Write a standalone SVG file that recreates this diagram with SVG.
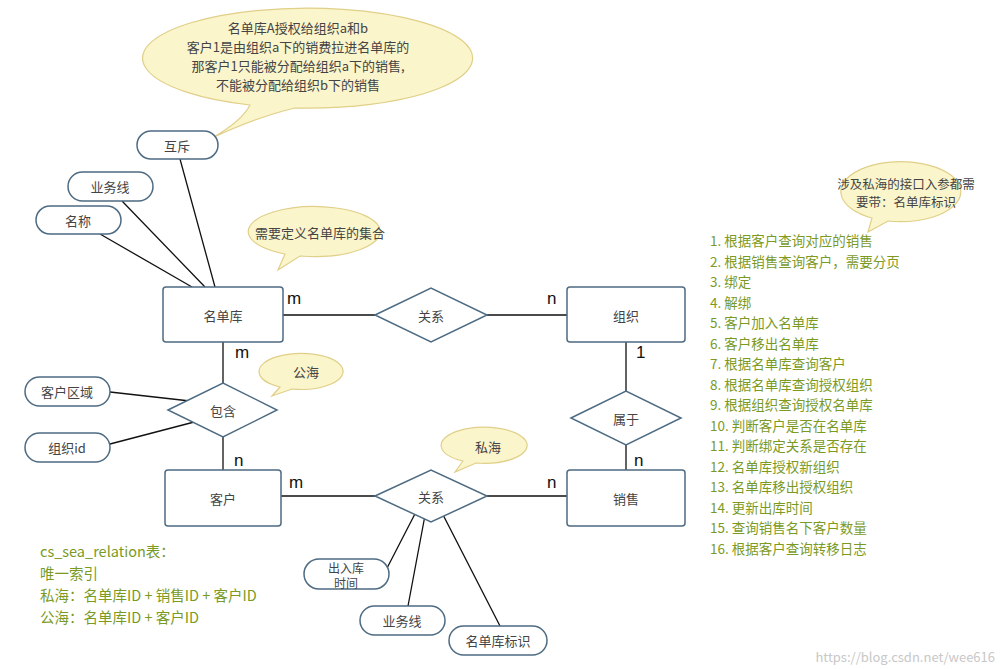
<svg xmlns="http://www.w3.org/2000/svg" width="1003" height="669" viewBox="0 0 1003 669">
<style>
text{font-family:"Noto Sans CJK SC","Liberation Sans",sans-serif;}
.box{fill:#fff;stroke:#4d6b82;stroke-width:1.5}
.t{font-size:13px;fill:#444;text-anchor:middle;dominant-baseline:central}
.c{fill:#fbf5cc;stroke:#e0cf88;stroke-width:1.2}
.ln{stroke:#111;stroke-width:1.3;fill:none}
.card{font-family:"Liberation Sans",sans-serif;font-size:17px;fill:#111}
.g{font-size:13.5px;fill:#7b9a1f}
.g2{font-size:14.5px;fill:#7b9a1f}
</style>
<rect width="1003" height="669" fill="#fff"/>
<g id="connectors">
<path class="ln" d="M283 315H375M487 315H567M223 342V383M223 437V470M626 342V391M626 445V470M281 496H375M487 496H567"/>
<path class="ln" d="M180 159L215 287M122 201L205 287M100 234L192 287M110 392L190 401M110 444L198 421M385 572L418 508M408 606L426 510M500 626L438 505"/>
</g>
<g id="callouts">
<path class="c" d="M212 138 C235 125 245 115 250 105 A165 50 0 1 1 295 108 C265 115 240 125 212 138Z"/>
<text class="t" x="298" y="27">名单库A授权给组织a和b</text>
<text class="t" x="298" y="46">客户1是由组织a下的销费拉进名单库的</text>
<text class="t" x="298" y="65">那客户1只能被分配给组织a下的销售,</text>
<text class="t" x="298" y="84">不能被分配给组织b下的销售</text>
<path class="c" d="M278 270 L285 254 A66 25 0 1 1 300 256 Z"/>
<text class="t" x="320" y="232">需要定义名单库的集合</text>
<path class="c" d="M272 396 L280 387 A42 18 0 1 1 292 389 Z"/>
<text class="t" x="306" y="371">公海</text>
<path class="c" d="M455 472 L463 461 A43 18 0 1 1 476 463 Z"/>
<text class="t" x="488" y="446">私海</text>
<path class="c" d="M868 232 L872 218 A60 30 0 1 1 888 221 Z"/>
<text class="t" x="906" y="183" style="font-size:12.5px">涉及私海的接口入参都需</text>
<text class="t" x="906" y="201" style="font-size:12.5px">要带：名单库标识</text>
</g>
<g id="n-mdk"><rect class="box" x="163" y="287" width="120" height="55" rx="3"/><text class="t" x="223" y="315">名单库</text></g>
<g id="n-zz"><rect class="box" x="567" y="287" width="118" height="55" rx="3"/><text class="t" x="626" y="315">组织</text></g>
<g id="n-kh"><rect class="box" x="165" y="470" width="116" height="56" rx="3"/><text class="t" x="223" y="498">客户</text></g>
<g id="n-xs"><rect class="box" x="567" y="470" width="118" height="56" rx="3"/><text class="t" x="626" y="498">销售</text></g>
<g id="d-gx1"><path class="box" d="M375 315L431 288L487 315L431 342Z"/><text class="t" x="431" y="315">关系</text></g>
<g id="d-bh"><path class="box" d="M168 410L223 383L277 410L223 437Z"/><text class="t" x="223" y="410">包含</text></g>
<g id="d-sy"><path class="box" d="M571 418L626 391L681 418L626 445Z"/><text class="t" x="626" y="418">属于</text></g>
<g id="d-gx2"><path class="box" d="M375 496L431 470L487 496L431 522Z"/><text class="t" x="431" y="496">关系</text></g>
<g id="a-hc"><rect class="box" x="137" y="131" width="81" height="28" rx="14"/><text class="t" x="177" y="145">互斥</text></g>
<g id="a-ywx"><rect class="box" x="68" y="172" width="85" height="29" rx="14.5"/><text class="t" x="110" y="186">业务线</text></g>
<g id="a-mc"><rect class="box" x="36" y="206" width="85" height="28" rx="14"/><text class="t" x="78" y="220">名称</text></g>
<g id="a-khqy"><rect class="box" x="25" y="377" width="85" height="29" rx="14.5"/><text class="t" x="67" y="391">客户区域</text></g>
<g id="a-zzid"><rect class="box" x="25" y="433" width="85" height="29" rx="14.5"/><text class="t" x="67" y="447">组织id</text></g>
<g id="a-crk"><rect class="box" x="304" y="559" width="85" height="30" rx="15"/><text class="t" x="346" y="567" style="font-size:12px">出入库</text><text class="t" x="346" y="582" style="font-size:12px">时间</text></g>
<g id="a-ywx2"><rect class="box" x="360" y="606" width="85" height="29" rx="14.5"/><text class="t" x="402" y="620">业务线</text></g>
<g id="a-mdkbs"><rect class="box" x="449" y="626" width="98" height="29" rx="14.5"/><text class="t" x="498" y="640">名单库标识</text></g>
<g id="cards">
<text class="card" x="287" y="304">m</text><text class="card" x="547" y="304">n</text>
<text class="card" x="235" y="358">m</text><text class="card" x="636" y="358">1</text>
<text class="card" x="234" y="466">n</text><text class="card" x="634" y="466">n</text>
<text class="card" x="289" y="488">m</text><text class="card" x="547" y="488">n</text>
</g>
<g id="notes-left" class="g2">
<text x="40" y="557">cs_sea_relation表：</text>
<text x="40" y="579">唯一索引</text>
<text x="40" y="601">私海：名单库ID + 销售ID + 客户ID</text>
<text x="40" y="623">公海：名单库ID + 客户ID</text>
</g>
<g id="notes-right" class="g">
<text x="710" y="246">1. 根据客户查询对应的销售</text>
<text x="710" y="266.5">2. 根据销售查询客户，需要分页</text>
<text x="710" y="287">3. 绑定</text>
<text x="710" y="307.5">4. 解绑</text>
<text x="710" y="328">5. 客户加入名单库</text>
<text x="710" y="348.5">6. 客户移出名单库</text>
<text x="710" y="369">7. 根据名单库查询客户</text>
<text x="710" y="389.5">8. 根据名单库查询授权组织</text>
<text x="710" y="410">9. 根据组织查询授权名单库</text>
<text x="710" y="430.5">10. 判断客户是否在名单库</text>
<text x="710" y="451">11. 判断绑定关系是否存在</text>
<text x="710" y="471.5">12. 名单库授权新组织</text>
<text x="710" y="492">13. 名单库移出授权组织</text>
<text x="710" y="512.5">14. 更新出库时间</text>
<text x="710" y="533">15. 查询销售名下客户数量</text>
<text x="710" y="553.5">16. 根据客户查询转移日志</text>
</g>
<text x="995" y="662" text-anchor="end" style="font-size:13px;fill:#c8c8c8">https://blog.csdn.net/wee616</text>
</svg>
